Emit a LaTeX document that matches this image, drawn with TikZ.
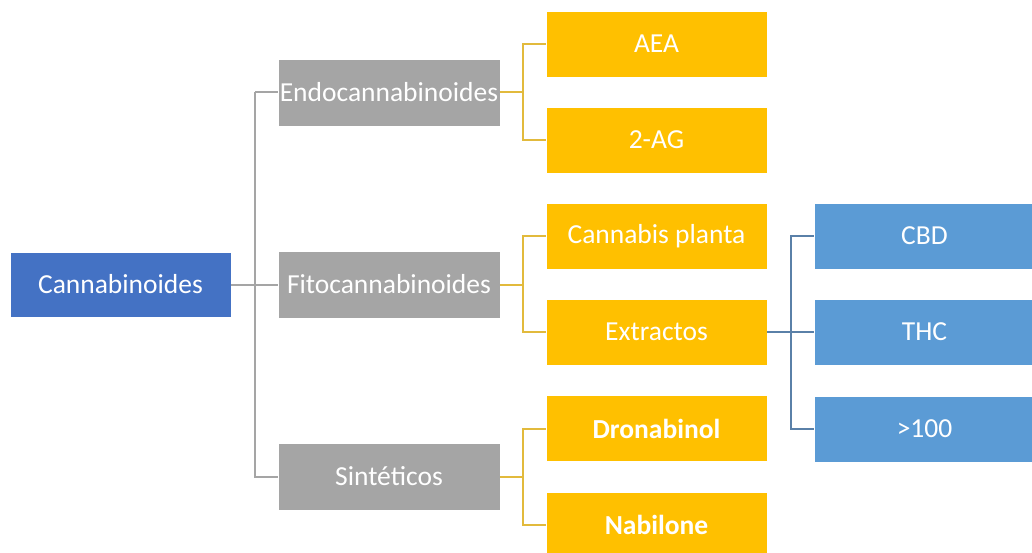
\documentclass[tikz,border=0pt]{standalone}
\usepackage{fontspec}
\setmainfont{Carlito}
\usetikzlibrary{calc}
\definecolor{dkblue}{HTML}{4472C4}
\definecolor{ltblue}{HTML}{5B9BD5}
\definecolor{boxgray}{HTML}{A5A5A5}
\definecolor{boxyel}{HTML}{FFC000}
\definecolor{lngray}{HTML}{A5A5A5}
\definecolor{lnyel}{HTML}{E2BA3C}
\definecolor{lnblue}{HTML}{5A80A8}
\tikzset{
  box/.style={rectangle, draw=white, line width=0.8pt, inner sep=0pt, text=white,
    font=\fontsize{27.5}{30}\selectfont, minimum width=221pt, minimum height=66pt},
  rootbox/.style={box, fill=dkblue, minimum height=65pt},
  graybox/.style={box, fill=boxgray, minimum width=222pt, minimum height=67pt},
  yelbox/.style={box, fill=boxyel},
  bluebox/.style={box, fill=ltblue},
  gline/.style={draw=lngray, line width=2pt},
  yline/.style={draw=lnyel, line width=2pt},
  bline/.style={draw=lnblue, line width=2pt}
}
\begin{document}
\begin{tikzpicture}[x=1pt,y=-1pt]
\useasboundingbox[fill=white] (0,0) rectangle (1032,553);
\node[rootbox] (can) at (120.5,284.5) {Cannabinoides};
\node[graybox] (endo) at (389,92.5) {Endocannabinoides};
\node[graybox] (fito) at (389,284.5) {Fitocannabinoides};
\node[graybox] (sint) at (389,476.5) {Sintéticos};
\node[yelbox] (aea) at (656.5,44) {AEA};
\node[yelbox] (ag) at (656.5,140) {2-AG};
\node[yelbox] (cp) at (656.5,236) {Cannabis planta};
\node[yelbox] (ext) at (656.5,332) {Extractos};
\node[yelbox, font=\fontsize{27.5}{30}\selectfont\bfseries] (dro) at (656.5,428.5) {Dronabinol};
\node[yelbox, font=\fontsize{27.5}{30}\selectfont\bfseries] (nab) at (656.5,525) {Nabilone};
\node[bluebox] (cbd) at (924.5,236) {CBD};
\node[bluebox] (thc) at (924.5,332) {THC};
\node[bluebox] (more) at (924.5,429) {>100};
% gray connectors
\coordinate (g) at ($(can.east)+(24,0)$);
\draw[gline] (can.east) -- (g |- can.east);
\draw[gline] (g |- endo.west) |- (endo.west);
\draw[gline] (g |- endo.west) -- (g |- sint.west) -- (sint.west);
\draw[gline] (g |- fito.west) -- (fito.west);
% yellow connectors
\foreach \p/\a/\b in {endo/aea/ag, fito/cp/ext, sint/dro/nab}{
  \draw[yline] (\p.east) -- ++(23,0) coordinate (y\p);
  \draw[yline] (\a.west) -| (y\p) |- (\b.west);
}
% blue connectors
\draw[bline] (ext.east) -- ++(24,0) coordinate (bx);
\draw[bline] (cbd.west) -| (bx) |- (more.west);
\draw[bline] (bx) -- (thc.west);
\end{tikzpicture}
\end{document}
